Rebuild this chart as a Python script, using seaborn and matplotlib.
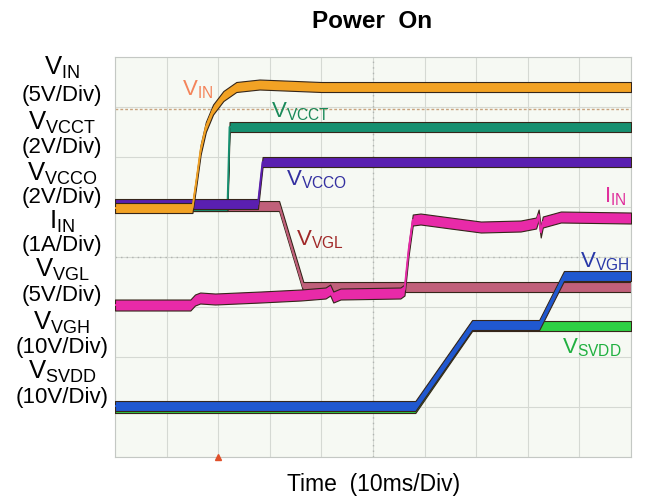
import matplotlib
matplotlib.use("Agg")
import matplotlib.pyplot as plt
import numpy as np
import seaborn as sns

# Scope capture, time in ms (10 ms/div), level in screen divisions (0..8)
vin_t = [0, 15.0, 15.8, 16.6, 17.6, 19.0, 21.0, 23.5, 28.0, 40.0, 100]
vin_v = [4.98, 4.98, 5.55, 6.15, 6.6, 6.95, 7.22, 7.4, 7.45, 7.4, 7.4]

vcct_t = [0, 21.8, 22.2, 100]
vcct_v = [5.02, 5.02, 6.6, 6.6]

vcco_t = [0, 27.7, 28.6, 100]
vcco_v = [5.06, 5.06, 5.9, 5.9]

vgl_t = [0, 31.8, 36.5, 100]
vgl_v = [5.02, 5.02, 3.4, 3.4]

iin_t = [0, 14.6, 15.5, 16.5, 19.4, 28.2, 36.0, 40.8, 41.7, 42.3, 43.7, 55.3,
         56.1, 56.9, 57.7, 59.2, 65.0, 70.9, 78.6, 81.6, 82.1, 82.5, 82.9, 86.4, 100]
iin_v = [3.04, 3.04, 3.14, 3.18, 3.16, 3.2, 3.24, 3.28, 3.34, 3.2, 3.26, 3.28,
         3.34, 4.14, 4.74, 4.76, 4.68, 4.6, 4.62, 4.68, 4.84, 4.5, 4.7, 4.8, 4.78]

svdd_t = [0, 58.2, 69.2, 100]
svdd_v = [0.98, 0.98, 2.62, 2.62]

vgh_t = [0, 58.2, 69.2, 82.2, 87.0, 100]
vgh_v = [1.02, 1.02, 2.64, 2.64, 3.62, 3.62]

trig_level = 6.96
trig_time = 20

channel_names = [r"V$_\mathregular{IN}$", r"V$_\mathregular{VCCT}$",
                 r"V$_\mathregular{VCCO}$", r"I$_\mathregular{IN}$",
                 r"V$_\mathregular{VGL}$", r"V$_\mathregular{VGH}$",
                 r"V$_\mathregular{SVDD}$"]
channel_scales = ["(5V/Div)", "(2V/Div)", "(2V/Div)", "(1A/Div)",
                  "(5V/Div)", "(10V/Div)", "(10V/Div)"]

sns.set_style("white")
plt.rcParams["font.family"] = ["Liberation Sans", "DejaVu Sans"]
plt.rcParams["text.color"] = "black"

fig = plt.figure(figsize=(6.48, 5.01), dpi=100)
ax = fig.add_axes([0.1775, 0.0878, 0.7963, 0.7984])
ax.set_facecolor("#f6f9f3")
ax.set_xlim(0, 100)
ax.set_ylim(0, 8)
ax.set_xticks(range(0, 101, 10))
ax.set_yticks(range(0, 9))
ax.grid(True, color="#d5d9d3", lw=0.8)
ax.tick_params(length=0, labelbottom=False, labelleft=False)
for s in ax.spines.values():
    s.set_color("#c4c8c4")

# dotted centre lines of the graticule
ax.axvline(50, color="#b0b4b0", ls=(0, (1, 3)), lw=1.0)
ax.axhline(4, color="#b0b4b0", ls=(0, (1, 3)), lw=1.0)

# trigger level and trigger position
ax.axhline(trig_level, color="#c9a37e", ls=(0, (2, 1.5)), lw=1.0)
ax.plot([trig_time], [0], marker="^", color="#e0502a", ms=4, clip_on=False, zorder=10)

# traces: (time, level, colour, half band height, z-order)
traces = [
    (vgl_t, vgl_v, "#c0607a", 0.1, 2),
    (vcct_t, vcct_v, "#169070", 0.1, 3),
    (vcco_t, vcco_v, "#5a1fb0", 0.1, 4),
    (vin_t, vin_v, "#f2a224", 0.1, 5),
    (iin_t, iin_v, "#e82aa8", 0.11, 6),
    (svdd_t, svdd_v, "#2ed044", 0.1, 7),
    (vgh_t, vgh_v, "#2058d0", 0.1, 8),
]
for t, v, c, h, z in traces:
    v = np.array(v)
    ax.fill_between(t, v - h, v + h, facecolor=c, edgecolor="#35261a",
                    lw=0.8, zorder=z)
    sns.lineplot(x=t, y=v, color=c, lw=1.4, estimator=None, sort=False,
                 ax=ax, zorder=z + 0.5)

# trace names on the screen
fs = 16
ax.text(13.0, 7.34, channel_names[0], color="#f4845a", fontsize=fs, va="center")
ax.text(30.3, 6.9, channel_names[1], color="#1a8a5a", fontsize=fs, va="center")
ax.text(33.2, 5.54, channel_names[2], color="#3430a0", fontsize=fs, va="center")
ax.text(99.2, 5.2, channel_names[3], color="#e0309c", fontsize=fs, va="center", ha="right")
ax.text(35.0, 4.34, channel_names[4], color="#a02828", fontsize=fs, va="center")
ax.text(99.6, 3.9, channel_names[5], color="#2838a8", fontsize=fs, va="center", ha="right")
ax.text(86.6, 2.18, channel_names[6], color="#20b040", fontsize=fs, va="center")

# channel scale labels on the left
name_y = [68, 123, 174, 222, 270, 323, 372]
scale_y = [95, 147, 197, 246, 296, 347, 397]
for name, scale, yn, ys in zip(channel_names, channel_scales, name_y, scale_y):
    fig.text(62 / 648, 1 - yn / 501, name, ha="center", va="center", fontsize=18.5)
    fig.text(62 / 648, 1 - ys / 501, scale, ha="center", va="center", fontsize=16)

fig.text(372 / 648, 1 - 22 / 501, "Power  On", ha="center", va="center",
         fontsize=17.5, fontweight="bold")
fig.text(374 / 648, 1 - 485 / 501, "Time  (10ms/Div)", ha="center", va="center",
         fontsize=16.5)

fig.savefig("out.png", dpi=100)
